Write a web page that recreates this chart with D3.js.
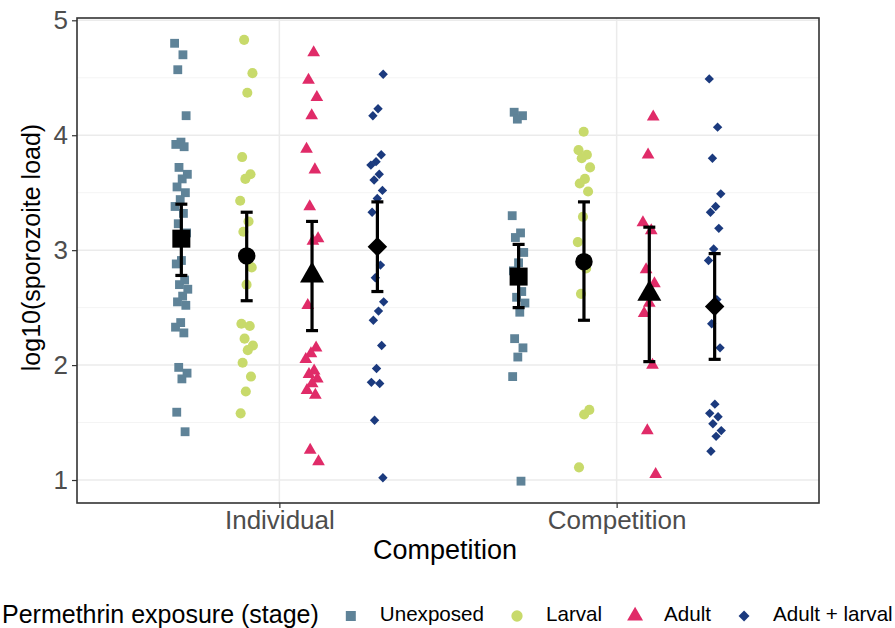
<!DOCTYPE html>
<html>
<head>
<meta charset="utf-8">
<script src="https://cdn.jsdelivr.net/npm/d3@7/dist/d3.min.js"></script>
<style>
  html, body { margin: 0; padding: 0; background: #ffffff; }
  svg { display: block; font-family: "Liberation Sans", Arial, sans-serif; }
</style>
</head>
<body>
<svg id="chart" width="895" height="628"></svg>
<script>
// Competition treatments on the x axis, permethrin stages dodged within each
const categories = ["Individual", "Competition"];
const stages = ["Unexposed", "Larval", "Adult", "Adult + larval"];
const stageColors = ["#5f8398", "#c8da6b", "#e02b68", "#1b3a7e"];
const yTicks = [1, 2, 3, 4, 5];

// log10 sporozoite load of individual mosquitoes
const unexposedIndividual = [4.80, 4.70, 4.57, 4.17, 3.94, 3.92, 3.90, 3.72, 3.66, 3.62, 3.55, 3.50, 3.44, 3.38, 3.32, 3.23, 3.15, 2.91, 2.88, 2.74, 2.70, 2.66, 2.60, 2.55, 2.52, 2.37, 2.33, 2.28, 1.98, 1.93, 1.88, 1.59, 1.42];
const larvalIndividual = [4.83, 4.54, 4.37, 3.81, 3.66, 3.62, 3.43, 3.25, 3.16, 2.85, 2.70, 2.36, 2.34, 2.23, 2.17, 2.13, 2.02, 1.90, 1.77, 1.58];
const adultIndividual = [4.72, 4.48, 4.33, 4.17, 3.88, 3.70, 3.38, 3.10, 3.08, 2.52, 2.15, 2.10, 2.05, 1.95, 1.92, 1.88, 1.84, 1.78, 1.74, 1.26, 1.16];
const adultLarvalIndividual = [4.53, 4.23, 4.17, 3.83, 3.77, 3.74, 3.66, 3.61, 3.52, 3.45, 3.33, 2.87, 2.76, 2.55, 2.47, 2.39, 2.17, 1.97, 1.85, 1.84, 1.52, 1.02];

const unexposedCompetition = [4.20, 4.17, 4.14, 3.30, 3.15, 3.11, 2.98, 2.89, 2.82, 2.64, 2.59, 2.54, 2.46, 2.23, 2.15, 2.07, 1.90, 0.99];
const larvalCompetition = [4.03, 3.87, 3.83, 3.80, 3.72, 3.62, 3.58, 3.51, 3.29, 3.07, 2.84, 2.62, 1.61, 1.57, 1.11];
const adultCompetition = [4.16, 3.83, 3.24, 3.17, 2.83, 2.71, 2.54, 2.45, 2.00, 1.43, 1.05];
const adultLarvalCompetition = [4.49, 4.07, 3.80, 3.49, 3.38, 3.33, 3.19, 3.01, 2.91, 2.57, 2.36, 2.15, 1.66, 1.58, 1.55, 1.49, 1.43, 1.38, 1.25];

// group means with 95% confidence limits
const meanIndividual = [3.10, 2.95, 2.78, 3.03];
const lowerIndividual = [2.78, 2.56, 2.30, 2.64];
const upperIndividual = [3.40, 3.33, 3.25, 3.42];
const meanCompetition = [2.77, 2.90, 2.62, 2.51];
const lowerCompetition = [2.50, 2.39, 2.03, 2.05];
const upperCompetition = [3.05, 3.42, 3.20, 2.97];

const pointSets = [
  [unexposedIndividual, larvalIndividual, adultIndividual, adultLarvalIndividual],
  [unexposedCompetition, larvalCompetition, adultCompetition, adultLarvalCompetition]
];
const summaries = [
  { mean: meanIndividual, lower: lowerIndividual, upper: upperIndividual },
  { mean: meanCompetition, lower: lowerCompetition, upper: upperCompetition }
];

const svg = d3.select("#chart");
const panel = { left: 77, right: 819, top: 18, bottom: 503 };

// discrete positions 1..n with 0.6 units of padding either side
const x = d3.scaleLinear().domain([0.4, categories.length + 0.6]).range([panel.left, panel.right]);
const y = d3.scaleLinear().domain([0.80, 5.02]).range([panel.bottom, panel.top]);

const dodgeWidth = 0.775;
const stageOffset = d3.scaleBand().domain(stages).range([-dodgeWidth / 2, dodgeWidth / 2]);
const stageX = (ci, si) => x(ci + 1 + stageOffset(stages[si]) + stageOffset.bandwidth() / 2);

// shape per stage: square, circle, triangle, diamond (rotated square)
const symbolTypes = [d3.symbolSquare, d3.symbolCircle, d3.symbolTriangle, d3.symbolSquare];
const rotations = [0, 0, 0, 45];
const pointSizes = [78, 80, 70, 44];
const meanSizes = [324, 240, 250, 190];
const symbolPath = (si, size) => d3.symbol().type(symbolTypes[si]).size(size)();

// panel grid
const g = svg.append("g");
g.append("rect")
  .attr("x", panel.left).attr("y", panel.top)
  .attr("width", panel.right - panel.left).attr("height", panel.bottom - panel.top)
  .attr("fill", "#ffffff");

const minorTicks = d3.range(1.5, 5, 1);
g.selectAll("line.minor").data(minorTicks).join("line")
  .attr("x1", panel.left).attr("x2", panel.right)
  .attr("y1", d => y(d)).attr("y2", d => y(d))
  .attr("stroke", "#f4f4f4").attr("stroke-width", 1);
g.selectAll("line.major").data(yTicks).join("line")
  .attr("x1", panel.left).attr("x2", panel.right)
  .attr("y1", d => y(d)).attr("y2", d => y(d))
  .attr("stroke", "#ebebeb").attr("stroke-width", 1.5);
g.selectAll("line.vgrid").data(categories).join("line")
  .attr("x1", (d, i) => x(i + 1)).attr("x2", (d, i) => x(i + 1))
  .attr("y1", panel.top).attr("y2", panel.bottom)
  .attr("stroke", "#ebebeb").attr("stroke-width", 1.5);

// jittered raw observations
const jitterHalf = 0.02;
pointSets.forEach((sets, ci) => {
  sets.forEach((vals, si) => {
    const cx = stageX(ci, si);
    g.append("g").selectAll("path").data(vals).join("path")
      .attr("d", symbolPath(si, pointSizes[si]))
      .attr("transform", (d, i) => {
        const frac = ((i * 0.6180339887 + si * 0.31 + ci * 0.17) % 1) - 0.5;
        const jx = cx + (x(1 + frac * 2 * jitterHalf) - x(1));
        return `translate(${jx},${y(d)}) rotate(${rotations[si]})`;
      })
      .attr("fill", stageColors[si]);
  });
});

// error bars and means
const capHalf = 6;
summaries.forEach((s, ci) => {
  stages.forEach((st, si) => {
    const cx = stageX(ci, si);
    const eb = g.append("g").attr("stroke", "#000").attr("stroke-width", 3.2);
    eb.append("line").attr("x1", cx).attr("x2", cx).attr("y1", y(s.lower[si])).attr("y2", y(s.upper[si]));
    eb.append("line").attr("x1", cx - capHalf).attr("x2", cx + capHalf).attr("y1", y(s.lower[si])).attr("y2", y(s.lower[si]));
    eb.append("line").attr("x1", cx - capHalf).attr("x2", cx + capHalf).attr("y1", y(s.upper[si])).attr("y2", y(s.upper[si]));
    g.append("path")
      .attr("d", symbolPath(si, meanSizes[si]))
      .attr("transform", `translate(${cx},${y(s.mean[si])}) rotate(${rotations[si]})`)
      .attr("fill", "#000");
  });
});

// panel border
g.append("rect")
  .attr("x", panel.left).attr("y", panel.top)
  .attr("width", panel.right - panel.left).attr("height", panel.bottom - panel.top)
  .attr("fill", "none").attr("stroke", "#333333").attr("stroke-width", 1.6);

// axes
const yAxis = svg.append("g").attr("transform", `translate(${panel.left},0)`)
  .call(d3.axisLeft(y).tickValues(yTicks).tickFormat(d3.format("d")).tickSize(5).tickPadding(4));
const xAxis = svg.append("g").attr("transform", `translate(0,${panel.bottom})`)
  .call(d3.axisBottom(x).tickValues(categories.map((c, i) => i + 1)).tickFormat((d) => categories[d - 1]).tickSize(5).tickPadding(3));
[yAxis, xAxis].forEach(a => {
  a.select(".domain").remove();
  a.selectAll(".tick line").attr("stroke", "#333333").attr("stroke-width", 1.2);
  a.selectAll(".tick text").attr("fill", "#4d4d4d").style("font-size", "26px")
    .style("font-family", "'Liberation Sans', Arial, sans-serif");
});

svg.append("text")
  .attr("transform", `translate(40,${(panel.top + panel.bottom) / 2 - 13}) rotate(-90)`)
  .attr("text-anchor", "middle").style("font-size", "25px").attr("fill", "#000")
  .text("log10(sporozoite load)");
svg.append("text")
  .attr("x", (panel.left + panel.right) / 2 - 3).attr("y", 559)
  .attr("text-anchor", "middle").style("font-size", "27px").attr("fill", "#000")
  .text("Competition");

// legend along the bottom
const legend = svg.append("g");
const legendY = 614;
const title = legend.append("text").attr("x", 2).attr("y", legendY + 9)
  .style("font-size", "25px").attr("fill", "#000").text("Permethrin exposure (stage)");
let cursor = 2 + title.node().getComputedTextLength();
const legendKeySizes = [100, 100, 110, 60];
stages.forEach((st, si) => {
  const kx = cursor + (si === 0 ? 32 : 33);
  legend.append("path")
    .attr("d", symbolPath(si, legendKeySizes[si]))
    .attr("transform", `translate(${kx},${legendY + 2}) rotate(${rotations[si]})`)
    .attr("fill", stageColors[si]);
  const t = legend.append("text").attr("x", kx + 29).attr("y", legendY + 7)
    .style("font-size", "20.6px").attr("fill", "#000").text(st);
  cursor = kx + 29 + t.node().getComputedTextLength();
});
</script>
</body>
</html>
